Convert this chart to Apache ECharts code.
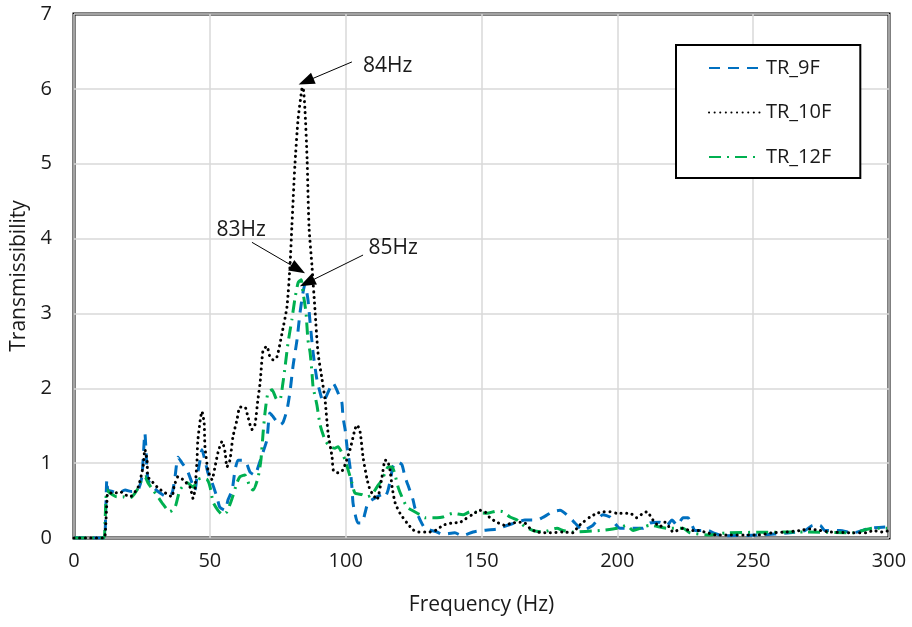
<!DOCTYPE html>
<html><head><meta charset="utf-8">
<script src="https://cdn.jsdelivr.net/npm/echarts@6/dist/echarts.min.js"></script>
<style>html,body{margin:0;padding:0;background:#fff}#c{width:912px;height:627px}</style>
</head><body><div id="c"></div>
<script>
const xTicks = [0, 50, 100, 150, 200, 250, 300];
const yTicks = [0, 1, 2, 3, 4, 5, 6, 7];
const seriesNames = ['TR_9F', 'TR_10F', 'TR_12F'];

const freq9 = [0,5,11.0,11.4,12.1,12.5,14.4,16.2,18.8,21.3,23.6,25.0,26.1,26.5,27.2,29.1,31.7,34.2,36.1,37.2,38.3,39.8,41.6,43.4,44.5,45.3,46.4,47.1,48.2,49.3,50.8,52.6,53.7,55.6,56.7,58.2,59.3,60.4,62.2,63.7,64.8,66.6,67.7,69.6,71.0,72.1,73.3,75.8,76.9,78.4,79.5,80.6,82.1,83.2,84.3,85.0,86.1,86.9,88.0,89.4,90.6,91.7,94.2,95.3,97.2,98.6,99.0,99.8,100.5,101.6,102.3,102.7,103.4,104.5,106.0,107.1,108.2,109.7,111.5,113.4,114.5,115.6,116.7,117.4,118.9,120.7,121.8,122.9,124.8,125.5,127.4,129.2,133.6,135.8,140.2,142.8,146.9,150.2,155.7,157.9,163.1,166.0,170.4,172.3,176.3,178.9,182.6,184.4,187.4,189.2,191.0,194.7,197.3,201.0,209.4,212.0,215.7,218.3,220.1,222.0,224.2,226.0,227.5,228.6,233.4,235.2,238.9,252.5,263.5,269.1,272.0,274.6,276.4,282.0,286.7,293.0,299.6];
const tr9 = [0,0,0,0.01,0.78,0.64,0.62,0.6,0.64,0.62,0.64,0.82,1.4,1.18,0.78,0.68,0.6,0.55,0.6,0.82,1.08,1.0,0.91,0.74,0.64,0.82,1.04,1.18,1.04,0.87,0.74,0.55,0.41,0.37,0.51,0.64,0.91,1.04,1.04,0.98,0.88,0.84,0.94,1.15,1.31,1.67,1.62,1.51,1.54,1.71,1.95,2.29,2.65,3.01,3.28,3.39,3.19,2.88,2.48,2.12,1.94,1.82,2.0,2.07,1.94,1.81,1.62,1.45,1.22,0.95,0.68,0.47,0.33,0.2,0.2,0.33,0.47,0.51,0.55,0.58,0.55,0.64,0.82,0.95,1.02,0.98,0.82,0.71,0.51,0.4,0.24,0.13,0.08,0.05,0.07,0.03,0.08,0.1,0.12,0.15,0.21,0.24,0.24,0.27,0.35,0.37,0.27,0.2,0.1,0.13,0.17,0.31,0.28,0.13,0.13,0.2,0.21,0.17,0.24,0.17,0.27,0.27,0.17,0.1,0.1,0.07,0.03,0.04,0.07,0.1,0.17,0.17,0.1,0.1,0.07,0.13,0.15];

const freq10 = [0,5,10.7,11.4,12.1,12.5,15.1,16.9,18.8,20.6,23.6,25.4,26.1,26.9,27.2,29.1,30.9,32.8,34.6,36.1,36.8,38.3,40.1,42.7,43.8,44.5,45.3,45.6,47.1,47.9,48.2,49.3,50.8,51.9,53.0,54.5,55.6,56.3,57.4,58.5,60.0,61.1,62.9,64.0,65.5,66.6,67.7,68.5,69.6,71.0,72.1,73.3,74.7,76.6,78.4,79.5,80.2,81.3,82.5,83.9,84.3,85.0,85.8,86.5,87.6,88.7,89.8,91.3,92.4,93.5,95.0,95.5,97.2,99.0,101.6,103.4,104.2,105.3,106.4,107.9,109.0,110.1,111.5,113.4,114.5,115.2,116.3,117.1,118.2,120.0,122.6,124.8,126.6,131.0,133.6,135.8,139.1,142.1,143.9,146.5,149.4,151.3,153.1,155.7,158.6,161.2,164.2,166.0,167.8,170.4,175.2,180.0,183.7,185.5,187.4,189.9,192.5,194.7,197.3,199.9,204.7,207.2,209.4,210.9,213.1,215.7,217.5,219.4,220.5,224.2,226.7,229.7,233.0,236.7,251.4,257.3,262.4,267.2,270.9,274.6,278.3,286.7,291.9,294.1,297.8,300];
const tr10 = [0,0,0,0.01,0.47,0.6,0.6,0.62,0.58,0.55,0.68,0.95,1.18,1.04,0.82,0.74,0.67,0.62,0.58,0.55,0.68,0.82,0.78,0.68,0.53,0.64,1.04,1.31,1.69,1.54,1.22,0.91,0.78,0.95,1.14,1.29,1.15,0.95,1.04,1.35,1.58,1.75,1.75,1.62,1.45,1.51,1.85,2.07,2.51,2.56,2.42,2.38,2.42,2.74,3.09,3.63,4.16,4.97,5.6,6.0,6.02,5.73,5.06,4.16,3.63,3.05,2.48,2.12,1.85,1.41,1.08,0.9,0.87,0.91,1.18,1.45,1.51,1.42,1.08,0.78,0.64,0.58,0.51,0.82,1.04,1.04,0.91,0.68,0.47,0.33,0.2,0.11,0.08,0.08,0.11,0.17,0.2,0.21,0.25,0.31,0.37,0.35,0.27,0.21,0.17,0.2,0.21,0.2,0.13,0.08,0.07,0.08,0.07,0.15,0.21,0.28,0.33,0.35,0.35,0.33,0.33,0.27,0.33,0.35,0.24,0.15,0.21,0.13,0.08,0.13,0.1,0.1,0.07,0.04,0.04,0.07,0.08,0.1,0.12,0.1,0.08,0.07,0.07,0.1,0.08,0.1];

const freq12 = [0,5,11.0,11.4,12.1,13.3,15.8,18.0,19.9,21.3,23.2,25.0,26.1,27.2,29.1,30.9,32.4,35.3,37.2,39.0,41.6,43.8,45.6,47.1,49.0,50.1,51.2,53.0,54.8,56.3,58.2,60.0,61.1,62.9,64.8,65.9,67.7,68.8,69.6,70.3,71.4,72.9,74.7,75.8,76.9,77.7,78.8,80.2,81.3,82.5,83.6,84.3,85.4,86.1,86.9,87.6,88.0,89.4,90.6,92.4,94.2,96.1,97.2,98.6,99.8,100.9,102.3,103.4,106.0,107.9,109.7,111.5,113.4,114.5,115.6,117.1,118.2,119.3,120.7,122.6,124.4,127.4,129.2,133.6,135.8,139.5,143.2,145.8,152.0,155.7,157.9,160.5,163.1,166.0,169.0,172.6,177.8,180.0,183.7,193.6,200.2,203.5,205.8,212.0,218.3,224.2,226.7,234.1,240.4,269.8,286.7,294.1,299.3];
const tr12 = [0,0,0,0.2,0.64,0.6,0.55,0.55,0.53,0.55,0.64,0.78,0.82,0.74,0.64,0.55,0.47,0.35,0.41,0.64,0.74,0.68,0.78,0.8,0.78,0.68,0.48,0.37,0.31,0.35,0.53,0.74,0.82,0.84,0.68,0.64,0.8,1.04,1.4,1.67,1.94,1.98,1.85,1.85,2.07,2.29,2.61,2.92,3.19,3.41,3.45,3.28,3.01,2.65,2.48,2.21,2.02,1.78,1.51,1.31,1.22,1.2,1.22,1.14,1.04,0.91,0.74,0.6,0.58,0.55,0.58,0.68,0.78,0.87,0.95,0.95,0.84,0.68,0.55,0.41,0.37,0.31,0.27,0.27,0.28,0.33,0.31,0.35,0.33,0.36,0.35,0.28,0.24,0.15,0.1,0.08,0.13,0.1,0.08,0.1,0.13,0.17,0.1,0.17,0.13,0.13,0.07,0.04,0.07,0.08,0.07,0.13,0.13];

const peakLabels = ['84Hz', '83Hz', '85Hz'];
const labelPos = [[115.5, 6.31], [61.5, 4.11], [117.5, 3.88]];
const arrowStart = [[102.3, 6.36], [65.5, 3.95], [106.4, 3.78]];
const arrowEnd = [[85.4, 6.10], [82.5, 3.59], [85.8, 3.41]];

const FONT = '"Open Sans", "Noto Sans", sans-serif';
const TXT = '#1a1a1a';
const pairs = (xs, ys) => xs.map((x, i) => [x, ys[i]]);

const chart = echarts.init(document.getElementById('c'), null, {renderer: 'canvas'});
const option = {
  animation: false,
  backgroundColor: '#fff',
  textStyle: {fontFamily: FONT},
  grid: {left: 74, right: 23, top: 14, bottom: 89, show: true, borderColor: '#000', borderWidth: 3, containLabel: false},
  legend: {
    data: seriesNames,
    orient: 'vertical',
    left: 676, top: 45,
    backgroundColor: '#fff',
    borderColor: '#000', borderWidth: 2,
    padding: [13, 29, 11, 32],
    itemWidth: 52, itemHeight: 20, itemGap: 24.5,
    itemStyle: {opacity: 0, color: 'rgba(0,0,0,0)', borderWidth: 0},
    textStyle: {fontSize: 20, lineHeight: 20, color: TXT, fontFamily: FONT},
  },
  xAxis: {
    type: 'value', min: xTicks[0], max: xTicks[xTicks.length - 1], interval: 50,
    name: 'Frequency (Hz)', nameLocation: 'middle', nameGap: 57,
    nameTextStyle: {fontSize: 21, color: TXT, fontFamily: FONT},
    axisLine: {show: false}, axisTick: {show: false},
    axisLabel: {fontSize: 20, color: TXT, margin: 13, fontFamily: FONT},
    splitLine: {show: true, lineStyle: {color: '#d9d9d9', width: 1.5}}
  },
  yAxis: {
    type: 'value', min: yTicks[0], max: yTicks[yTicks.length - 1], interval: 1,
    name: 'Transmissibility', nameLocation: 'middle', nameGap: 44,
    nameTextStyle: {fontSize: 21, color: TXT, fontFamily: FONT},
    axisLine: {show: false}, axisTick: {show: false},
    axisLabel: {fontSize: 20, color: TXT, margin: 22, fontFamily: FONT},
    splitLine: {show: true, lineStyle: {color: '#d9d9d9', width: 1.5}}
  },
  series: [
    {
      name: seriesNames[0], type: 'line', data: pairs(freq9, tr9), smooth: 0.2,
      showSymbol: false, symbol: 'none',
      lineStyle: {color: '#0070C0', width: 3, type: [11, 8]},
      itemStyle: {color: '#0070C0'}, z: 3
    },
    {
      name: seriesNames[1], type: 'line', data: pairs(freq10, tr10), smooth: 0.2,
      showSymbol: false, symbol: 'none',
      lineStyle: {color: '#000', width: 3, type: [0.1, 5.5], cap: 'round'},
      itemStyle: {color: '#000'}, z: 4,
      markLine: {
        silent: true, symbol: ['none', 'triangle'], symbolSize: [12, 16],
        lineStyle: {color: '#000', width: 1, type: 'solid'},
        label: {show: false},
        data: arrowStart.map((s, i) => [{coord: s}, {coord: arrowEnd[i]}])
      },
      markPoint: {
        silent: true, symbol: 'circle', symbolSize: 0,
        label: {show: true, position: 'inside', fontSize: 21, color: TXT, fontFamily: FONT, formatter: p => p.name},
        data: labelPos.map((c, i) => ({name: peakLabels[i], coord: c}))
      }
    },
    {
      name: seriesNames[2], type: 'line', data: pairs(freq12, tr12), smooth: 0.2,
      showSymbol: false, symbol: 'none',
      lineStyle: {color: '#00B050', width: 3, type: [12, 6, 2, 6]},
      itemStyle: {color: '#00B050'}, z: 3
    }
  ]
};
chart.setOption(option);
</script>
</body></html>
